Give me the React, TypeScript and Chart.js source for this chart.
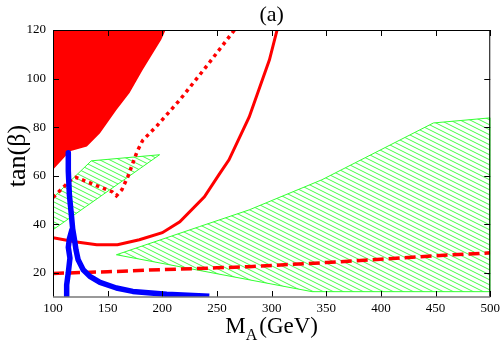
import React, { useEffect, useRef } from 'react';
import { Chart, registerables } from 'chart.js';

Chart.register(...registerables);

// Axis ticks
const xTickValues = [100, 150, 200, 250, 300, 350, 400, 450, 500];
const yTickValues = [20, 40, 60, 80, 100, 120];

// Red excluded region (upper left)
const redRegionX = [100, 203, 199, 182, 170, 158, 143, 131, 115.5, 100, 100];
const redRegionY = [120, 120, 116, 103.5, 94, 87, 77.5, 72, 70, 62.4, 120];

// Green hatched regions
const greenSmallX = [100, 100, 135, 197.5, 100];
const greenSmallY = [37.7, 50.9, 66.1, 68.6, 37.7];
const greenLargeX = [158, 234, 279.5, 346, 448, 500, 500, 337, 158];
const greenLargeY = [27.4, 39, 45.9, 58.3, 81.7, 83.8, 12.2, 12.2, 27.4];

// Red solid contour
const redSolidX = [100, 120, 140, 159, 179, 200, 216, 238.5, 252, 261, 279.5, 298, 305];
const redSolidY = [34.4, 32.8, 31.5, 31.5, 33.6, 36.5, 41, 51.3, 60.5, 66.5, 84.2, 107.7, 120];

// Red dotted contour
const redDottedX = [100, 118, 121, 154, 158, 163, 168.5, 177, 182, 195, 216, 240, 266];
const redDottedY = [51, 59, 59.3, 53.4, 51.7, 54.2, 59.6, 70, 74.5, 80.5, 91.2, 104.8, 120];

// Red dashed contour
const redDashedX = [100, 150, 200, 250, 279.5, 300, 350, 400, 450, 500];
const redDashedY = [19.7, 20.4, 21.3, 22, 22.5, 23, 24.2, 25.6, 27, 28.2];

// Blue thick contour (main branch and lower-left branch)
const blueMainX = [114, 114, 115, 117, 118, 119.5, 121, 123, 127.6, 133.7, 143, 158, 173, 204, 243];
const blueMainY = [69.4, 62, 52, 43, 38, 34, 29.5, 25.3, 21.2, 18.5, 16, 13.7, 12.3, 11.1, 10.3];
const blueBranchX = [117.5, 115, 114, 115.5, 114, 112.5, 112.5];
const blueBranchY = [38, 34, 30.5, 26, 20, 15, 10.5];

const pts = (xs: number[], ys: number[]) => xs.map((x, i) => ({ x, y: ys[i] }));

function makeHatch(): CanvasPattern | string {
  const c = document.createElement('canvas');
  c.width = 10;
  c.height = 5;
  const g = c.getContext('2d');
  if (!g) return 'rgba(0,255,0,0.3)';
  g.strokeStyle = '#44ff44';
  g.lineWidth = 1;
  g.beginPath();
  for (const dy of [-5, 0, 5]) {
    g.moveTo(0, dy);
    g.lineTo(10, dy + 5);
  }
  g.stroke();
  return g.createPattern(c, 'repeat') || 'rgba(0,255,0,0.3)';
}

const SERIF = '"Liberation Serif", "DejaVu Serif", serif';

const framePlugin = {
  id: 'framePlugin',
  afterDraw(chart: any) {
    const ctx = chart.ctx as CanvasRenderingContext2D;
    const a = chart.chartArea;
    const xs = chart.scales.x;
    const ys = chart.scales.y;
    ctx.save();
    // ticks
    ctx.strokeStyle = '#000';
    ctx.lineWidth = 1;
    ctx.beginPath();
    for (const v of xTickValues) {
      const px = Math.round(xs.getPixelForValue(v)) + 0.5;
      ctx.moveTo(px, a.bottom);
      ctx.lineTo(px, a.bottom - 6);
      ctx.moveTo(px, a.top);
      ctx.lineTo(px, a.top + 6);
    }
    for (const v of yTickValues) {
      const py = Math.round(ys.getPixelForValue(v)) + 0.5;
      ctx.moveTo(a.left, py);
      ctx.lineTo(a.left + 6, py);
      ctx.moveTo(a.right, py);
      ctx.lineTo(a.right - 6, py);
    }
    ctx.stroke();
    // frame
    ctx.beginPath();
    ctx.moveTo(a.left + 0.5, a.bottom);
    ctx.lineTo(a.left + 0.5, a.top + 0.5);
    ctx.lineTo(a.right - 0.5, a.top + 0.5);
    ctx.lineTo(a.right - 0.5, a.bottom);
    ctx.stroke();
    ctx.strokeStyle = '#777';
    ctx.lineWidth = 1.5;
    ctx.beginPath();
    ctx.moveTo(a.left, a.bottom);
    ctx.lineTo(a.right, a.bottom);
    ctx.stroke();

    // title "(a)"
    ctx.fillStyle = '#000';
    ctx.font = `22px ${SERIF}`;
    ctx.textAlign = 'center';
    ctx.textBaseline = 'alphabetic';
    ctx.fillText('(a)', (a.left + a.right) / 2, 21);

    // x title M_A (GeV)
    const big = `23px ${SERIF}`;
    const small = `16px ${SERIF}`;
    ctx.textAlign = 'left';
    ctx.font = big;
    const wM = ctx.measureText('M').width;
    const wG = ctx.measureText('(GeV)').width;
    ctx.font = small;
    const wA = ctx.measureText('A').width;
    const total = wM + wA + 2 + wG;
    let x0 = (a.left + a.right) / 2 - total / 2;
    ctx.font = big;
    ctx.fillText('M', x0, 333);
    x0 += wM;
    ctx.font = small;
    ctx.fillText('A', x0, 340);
    x0 += wA + 2;
    ctx.font = big;
    ctx.fillText('(GeV)', x0, 333);

    // y title tan(β)
    ctx.translate(18, 156);
    ctx.rotate(-Math.PI / 2);
    ctx.font = `26px ${SERIF}`;
    ctx.textAlign = 'center';
    ctx.textBaseline = 'middle';
    ctx.fillText('tan(β)', 0, 0);
    ctx.restore();
  },
};

export default function App() {
  const ref = useRef<HTMLCanvasElement | null>(null);

  useEffect(() => {
    const canvas = ref.current;
    if (!canvas) return;
    const hatch = makeHatch();
    const chart = new Chart(canvas, {
      type: 'line',
      data: {
        datasets: [
          {
            data: pts(blueMainX, blueMainY),
            borderColor: '#0000ff',
            borderWidth: 5.5,
            fill: false,
            borderJoinStyle: 'round',
            borderCapStyle: 'butt',
          },
          {
            data: pts(blueBranchX, blueBranchY),
            borderColor: '#0000ff',
            borderWidth: 5.5,
            fill: false,
            borderJoinStyle: 'round',
          },
          {
            data: pts(redSolidX, redSolidY),
            borderColor: '#ff0000',
            borderWidth: 3,
            fill: false,
          },
          {
            data: pts(redDottedX, redDottedY),
            borderColor: '#ff0000',
            borderWidth: 3.5,
            borderDash: [3.5, 4],
            fill: false,
          },
          {
            data: pts(redDashedX, redDashedY),
            borderColor: '#ff0000',
            borderWidth: 3.5,
            borderDash: [11, 5],
            fill: false,
          },
          {
            data: pts(greenSmallX, greenSmallY),
            borderColor: '#33ff33',
            borderWidth: 1,
            backgroundColor: hatch as any,
            fill: 'shape',
          },
          {
            data: pts(greenLargeX, greenLargeY),
            borderColor: '#33ff33',
            borderWidth: 1,
            backgroundColor: hatch as any,
            fill: 'shape',
          },
          {
            data: pts(redRegionX, redRegionY),
            borderColor: '#ff0000',
            borderWidth: 0,
            backgroundColor: '#ff0000',
            fill: 'shape',
          },
        ] as any,
      },
      options: {
        responsive: false,
        animation: false,
        layout: { padding: { top: 30, right: 12, left: 0, bottom: 0 } },
        plugins: {
          legend: { display: false },
          tooltip: { enabled: false },
          title: { display: false },
        },
        elements: {
          point: { radius: 0, hoverRadius: 0 },
          line: { tension: 0 },
        },
        scales: {
          x: {
            type: 'linear',
            min: 100,
            max: 500,
            afterBuildTicks: (s: any) => {
              s.ticks = xTickValues.map((v) => ({ value: v }));
            },
            afterFit: (s: any) => {
              s.height = 46;
            },
            grid: { display: false, drawTicks: false },
            border: { display: false },
            ticks: {
              font: { family: SERIF, size: 13 },
              color: '#000',
              padding: 4,
              maxRotation: 0,
              autoSkip: false,
            },
          },
          y: {
            type: 'linear',
            min: 10,
            max: 120,
            afterBuildTicks: (s: any) => {
              s.ticks = yTickValues.map((v) => ({ value: v }));
            },
            afterFit: (s: any) => {
              s.width = 53;
            },
            grid: { display: false, drawTicks: false },
            border: { display: false },
            ticks: {
              font: { family: SERIF, size: 13 },
              color: '#000',
              padding: 7,
              autoSkip: false,
            },
          },
        },
      } as any,
      plugins: [framePlugin],
    });
    return () => chart.destroy();
  }, []);

  return (
    <div style={{ position: 'fixed', left: 0, top: 0, width: 504, height: 343, background: '#fff' }}>
      <canvas ref={ref} width={504} height={343} style={{ display: 'block', width: 504, height: 343 }} />
    </div>
  );
}
